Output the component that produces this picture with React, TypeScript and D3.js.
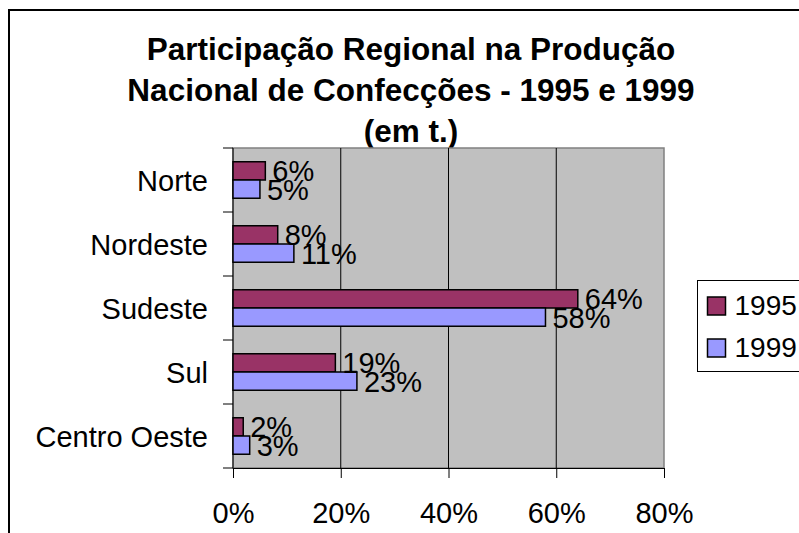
import * as d3 from "d3";
import React, { useEffect, useRef } from "react";

// dados
const regioes = ["Norte", "Nordeste", "Sudeste", "Sul", "Centro Oeste"];
const series = ["1995", "1999"];
const valores1995 = [6, 8.3, 64, 19, 1.9];
const valores1999 = [5, 11.3, 58, 23, 3.1];
const ticksX = [0, 20, 40, 60, 80];
const titulo = [
  "Participação Regional na Produção",
  "Nacional de Confecções - 1995 e 1999",
  "(em t.)",
];

const cores = { "1995": "#993366", "1999": "#9999FF" };
const fonte = "'Liberation Sans', Arial, sans-serif";

const App = () => {
  const svgRef = useRef<SVGSVGElement>(null);

  useEffect(() => {
    const w = 799;
    const h = 533;
    const plot = { left: 233, right: 664, top: 148, bottom: 468 };

    const svg = d3.select(svgRef.current).attr("width", w).attr("height", h);
    svg.selectAll("*").remove();

    const dados = regioes.map((r, i) => ({
      regiao: r,
      vals: [
        { serie: "1995", valor: valores1995[i] },
        { serie: "1999", valor: valores1999[i] },
      ],
    }));

    const xScale = d3.scaleLinear().domain([0, 80]).range([plot.left, plot.right]);
    const yScale = d3
      .scaleBand()
      .domain(regioes)
      .range([plot.top, plot.bottom])
      .paddingInner(0.43)
      .paddingOuter(0.215);
    const ySub = d3.scaleBand().domain(series).range([0, yScale.bandwidth()]);

    // moldura externa
    svg.append("rect")
      .attr("x", 9).attr("y", 10)
      .attr("width", 820).attr("height", 560)
      .attr("fill", "white")
      .attr("stroke", "black").attr("stroke-width", 2);

    // titulo
    svg.append("g")
      .selectAll("text")
      .data(titulo)
      .enter()
      .append("text")
      .attr("x", 411)
      .attr("y", (d, i) => 60 + i * 41)
      .attr("text-anchor", "middle")
      .attr("font-family", fonte)
      .attr("font-weight", "bold")
      .attr("font-size", "31.5px")
      .text(d => d);

    // area do grafico
    svg.append("rect")
      .attr("x", plot.left).attr("y", plot.top)
      .attr("width", plot.right - plot.left)
      .attr("height", plot.bottom - plot.top)
      .attr("fill", "#C0C0C0")
      .attr("stroke", "#808080").attr("stroke-width", 1.5);

    // linhas de grade
    svg.selectAll("line.grid")
      .data(ticksX.slice(1, -1))
      .enter()
      .append("line")
      .attr("class", "grid")
      .attr("x1", d => xScale(d)).attr("x2", d => xScale(d))
      .attr("y1", plot.top).attr("y2", plot.bottom)
      .attr("stroke", "black").attr("stroke-width", 1);

    // eixos
    const xAxis = d3.axisBottom(xScale)
      .tickValues(ticksX)
      .tickSize(10)
      .tickFormat(d => `${d}%`);
    const gx = svg.append("g")
      .attr("transform", `translate(0, ${plot.bottom})`)
      .call(xAxis);
    gx.select(".domain").attr("stroke", "black");
    gx.selectAll(".tick line").attr("stroke", "black");
    gx.selectAll(".tick text")
      .attr("y", 55)
      .attr("dy", null)
      .attr("font-family", fonte)
      .attr("font-size", "29px")
      .attr("fill", "black");

    // marcas do eixo Y nos limites das categorias
    const limites = regioes.map(r => (yScale(r) as number) - (yScale.step() * yScale.paddingInner()) / 2);
    limites.push(plot.bottom);
    svg.selectAll("line.ytick")
      .data(limites)
      .enter()
      .append("line")
      .attr("class", "ytick")
      .attr("x1", plot.left - 10).attr("x2", plot.left)
      .attr("y1", d => d).attr("y2", d => d)
      .attr("stroke", "black");
    svg.append("line")
      .attr("x1", plot.left).attr("x2", plot.left)
      .attr("y1", plot.top).attr("y2", plot.bottom)
      .attr("stroke", "black");

    svg.selectAll("text.cat")
      .data(regioes)
      .enter()
      .append("text")
      .attr("class", "cat")
      .attr("x", 208)
      .attr("y", d => (yScale(d) as number) + yScale.bandwidth() / 2 + 11)
      .attr("text-anchor", "end")
      .attr("font-family", fonte)
      .attr("font-size", "29px")
      .text(d => d);

    // barras
    const grupos = svg.selectAll("g.regiao")
      .data(dados)
      .enter()
      .append("g")
      .attr("class", "regiao")
      .attr("transform", d => `translate(0, ${yScale(d.regiao)})`);

    grupos.selectAll("rect")
      .data(d => d.vals)
      .enter()
      .append("rect")
      .attr("x", xScale(0))
      .attr("y", d => ySub(d.serie) as number)
      .attr("width", d => xScale(d.valor) - xScale(0))
      .attr("height", ySub.bandwidth())
      .attr("fill", d => cores[d.serie])
      .attr("stroke", "black")
      .attr("stroke-width", 1.5);

    grupos.selectAll("text")
      .data(d => d.vals)
      .enter()
      .append("text")
      .attr("x", d => xScale(d.valor) + 7)
      .attr("y", d => (ySub(d.serie) as number) + ySub.bandwidth() / 2 + 10.5)
      .attr("font-family", fonte)
      .attr("font-size", "29px")
      .text(d => `${Math.round(d.valor)}%`);

    // legenda
    const leg = svg.append("g").attr("transform", "translate(697.5, 280.5)");
    leg.append("rect")
      .attr("width", 130).attr("height", 91)
      .attr("fill", "white")
      .attr("stroke", "black").attr("stroke-width", 1);
    const itens = leg.selectAll("g.item")
      .data(series)
      .enter()
      .append("g")
      .attr("class", "item")
      .attr("transform", (d, i) => `translate(10, ${16.5 + i * 42})`);
    itens.append("rect")
      .attr("width", 18).attr("height", 18)
      .attr("fill", d => cores[d])
      .attr("stroke", "black").attr("stroke-width", 1.5);
    itens.append("text")
      .attr("x", 27)
      .attr("y", 18)
      .attr("font-family", fonte)
      .attr("font-size", "28px")
      .text(d => d);
  }, []);

  return (
    <svg ref={svgRef} style={{ position: "absolute", left: 0, top: 0, display: "block" }} />
  );
};

export default App;
